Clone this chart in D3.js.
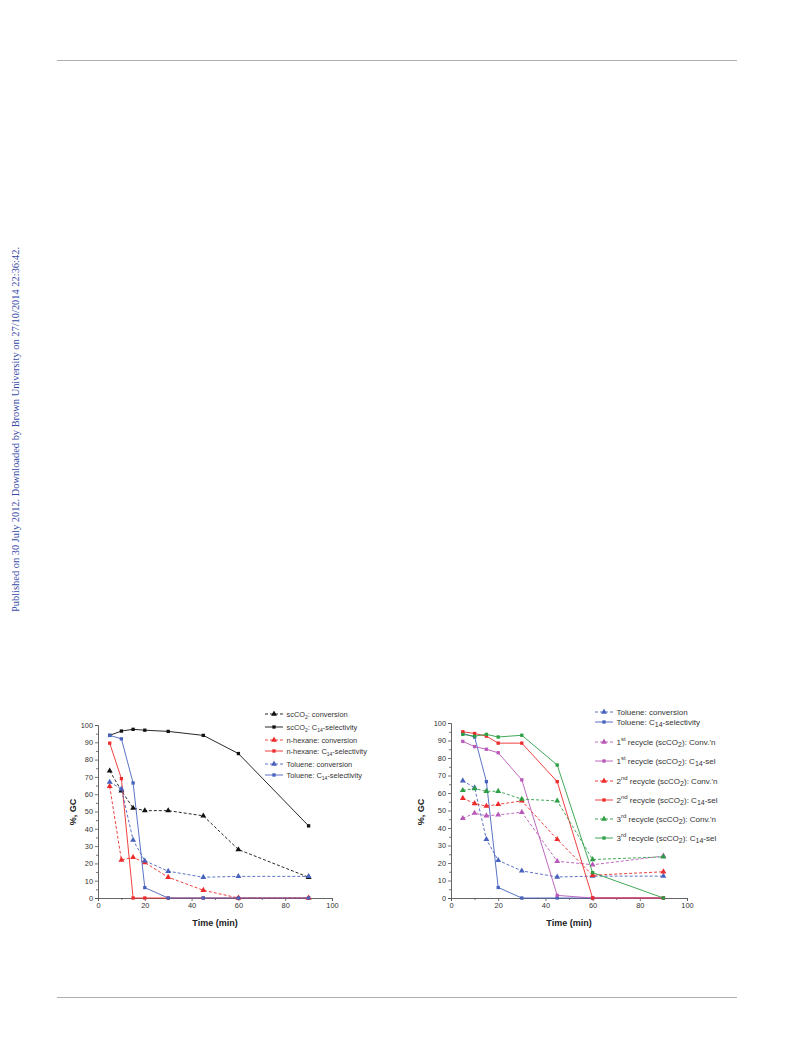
<!DOCTYPE html>
<html>
<head>
<meta charset="utf-8">
<script src="https://cdn.jsdelivr.net/npm/d3@7"></script>
<style>
  body { margin: 0; background: #fff; }
  svg { display: block; }
  text { font-family: "Liberation Sans", Arial, sans-serif; }
</style>
</head>
<body>
<svg id="page" width="793" height="1039"></svg>
<script>
// sampling times (min)
const times = [5, 10, 15, 20, 30, 45, 60, 90];

// left panel: solvent comparison
const scco2Conv   = [73.5, 62, 52, 50.5, 50.5, 47.5, 28, 12];
const scco2Sel    = [94, 96.5, 97.5, 97, 96.3, 94, 83.5, 41.7];
const hexaneConv  = [64.5, 22, 23.5, 20.5, 12, 4.5, 0, 0];
const hexaneSel   = [89.5, 69, 0, 0, 0, 0, 0, 0];
const tolueneConv = [67, 63, 33.5, 21.5, 15.5, 12, 12.5, 12.5];
const tolueneSel  = [94, 92, 66.5, 6, 0, 0, 0, 0];

// right panel: recycles in scCO2
const recycle1Conv = [45.5, 48.5, 47, 47.5, 49, 21, 19, 24];
const recycle1Sel  = [89.5, 86.5, 85, 83, 67.5, 1.5, 0, 0];
const recycle2Conv = [57, 54, 52.5, 53.5, 55.5, 33.5, 13, 15];
const recycle2Sel  = [95, 94, 92.5, 88.5, 88.5, 66.5, 0, 0];
const recycle3Conv = [61.5, 62.5, 61, 61, 56.5, 55.5, 22, 23.5];
const recycle3Sel  = [93.5, 92.5, 93.5, 92, 93, 76, 14.5, 0];

const xTicks = [0, 20, 40, 60, 80, 100];
const xMinor = [10, 30, 50, 70, 90];
const yTicks = [0, 10, 20, 30, 40, 50, 60, 70, 80, 90, 100];
const yMinor = [5, 15, 25, 35, 45, 55, 65, 75, 85, 95];

const col = {black: "#111", red: "#ee2b2b", blue: "#4763bd", purple: "#b858b8", green: "#2e9e45"};

const svg = d3.select("#page");

// page furniture
svg.append("line").attr("x1", 57).attr("x2", 737).attr("y1", 60.5).attr("y2", 60.5)
    .attr("stroke", "#999").attr("stroke-width", 0.8);
svg.append("line").attr("x1", 57).attr("x2", 737).attr("y1", 997.5).attr("y2", 997.5)
    .attr("stroke", "#999").attr("stroke-width", 0.8);
svg.append("text")
    .attr("transform", "translate(18.5,612) rotate(-90)")
    .attr("textLength", 365).attr("lengthAdjust", "spacingAndGlyphs")
    .style("font-family", "'Liberation Serif', 'Times New Roman', serif")
    .style("font-size", "10px").attr("fill", "#3548a8")
    .text("Published on 30 July 2012. Downloaded by Brown University on 27/10/2014 22:36:42.");

function drawPanel(p) {
    const x = d3.scaleLinear().domain([0, 100]).range(p.xRange);
    const y = d3.scaleLinear().domain([0, 100]).range(p.yRange);
    const g = svg.append("g");

    // axes
    g.append("g").attr("transform", `translate(0,${p.yRange[0]})`)
        .call(d3.axisBottom(x).tickValues(xTicks).tickSize(3).tickPadding(2));
    g.append("g").attr("transform", `translate(0,${p.yRange[0]})`)
        .call(d3.axisBottom(x).tickValues(xMinor).tickSize(2).tickFormat(""))
        .select(".domain").remove();
    g.append("g").attr("transform", `translate(${p.xRange[0]},0)`)
        .call(d3.axisLeft(y).tickValues(yTicks).tickSize(3).tickPadding(2));
    g.append("g").attr("transform", `translate(${p.xRange[0]},0)`)
        .call(d3.axisLeft(y).tickValues(yMinor).tickSize(2).tickFormat(""))
        .select(".domain").remove();
    g.selectAll(".domain").attr("stroke", "#555").attr("stroke-width", 0.9);
    g.selectAll(".tick line").attr("stroke", "#555").attr("stroke-width", 0.8);
    g.selectAll(".tick text").attr("fill", "#333").style("font-size", "7.4px")
        .style("font-family", "'Liberation Sans', Arial, sans-serif");

    // axis titles
    const xm = (p.xRange[0] + p.xRange[1]) / 2;
    g.append("text").attr("x", xm).attr("y", 926).attr("text-anchor", "middle")
        .style("font-size", "9px").style("font-weight", "bold").attr("fill", "#222")
        .text("Time (min)");
    g.append("text").attr("transform", `translate(${p.titleX},812) rotate(-90)`)
        .attr("text-anchor", "middle")
        .style("font-size", "9px").style("font-weight", "bold").attr("fill", "#222")
        .text("%, GC");

    const line = d3.line().x(d => x(d[0])).y(d => y(d[1]));
    const tri = d3.symbol().type(d3.symbolTriangle).size(15);
    const sq = d3.symbol().type(d3.symbolSquare).size(11);

    p.series.forEach(s => {
        const pts = times.map((t, i) => [t, s.values[i]]);
        g.append("path").datum(pts).attr("d", line).attr("fill", "none")
            .attr("stroke", s.color).attr("stroke-width", 0.9)
            .attr("stroke-dasharray", s.dashed ? "3,2" : null);
        g.selectAll(null).data(pts).join("path")
            .attr("transform", d => `translate(${x(d[0])},${y(d[1])})`)
            .attr("d", s.dashed ? tri : sq).attr("fill", s.color);
    });

    // legend
    p.series.forEach(s => {
        const lg = g.append("g").attr("transform", `translate(${p.legX},${s.legY})`);
        lg.append("line").attr("x1", 0).attr("x2", 18).attr("y1", 0).attr("y2", 0)
            .attr("stroke", s.color).attr("stroke-width", 0.9)
            .attr("stroke-dasharray", s.dashed ? "3,2" : null);
        lg.append("path").attr("transform", "translate(9,0)")
            .attr("d", s.dashed ? tri : sq).attr("fill", s.color);
        const t = lg.append("text").attr("x", 21.5).attr("y", 2.6)
            .style("font-size", p.legFont + "px").attr("fill", "#333");
        let shift = 0;
        s.label.forEach(([txt, mode]) => {
            const target = mode === "sub" ? p.subShift : mode === "sup" ? -p.supShift : 0;
            t.append("tspan").attr("dy", target - shift)
                .style("font-size", mode === "n" ? null : (mode === "sub" ? p.subFont : p.supFont) + "px")
                .text(txt);
            shift = target;
        });
    });
}

drawPanel({
    xRange: [98, 332], yRange: [898, 725], titleX: 76,
    legX: 265, legFont: 7.4, subFont: 5, supFont: 5, subShift: 2, supShift: 3,
    series: [
        {values: scco2Conv, color: col.black, dashed: true, legY: 714,
         label: [["scCO", "n"], ["2", "sub"], [": conversion", "n"]]},
        {values: scco2Sel, color: col.black, dashed: false, legY: 727,
         label: [["scCO", "n"], ["2", "sub"], [": C", "n"], ["14", "sub"], ["-selectivity", "n"]]},
        {values: hexaneConv, color: col.red, dashed: true, legY: 740,
         label: [["n-hexane: conversion", "n"]]},
        {values: hexaneSel, color: col.red, dashed: false, legY: 751,
         label: [["n-hexane: C", "n"], ["14", "sub"], ["-selectivity", "n"]]},
        {values: tolueneConv, color: col.blue, dashed: true, legY: 764,
         label: [["Toluene: conversion", "n"]]},
        {values: tolueneSel, color: col.blue, dashed: false, legY: 775,
         label: [["Toluene: C", "n"], ["14", "sub"], ["-selectivity", "n"]]}
    ]
});

drawPanel({
    xRange: [451, 687], yRange: [898, 723], titleX: 424,
    legX: 595, legFont: 8, subFont: 7, supFont: 6, subShift: 2, supShift: 3.5,
    series: [
        {values: tolueneConv, color: col.blue, dashed: true, legY: 712,
         label: [["Toluene: conversion", "n"]]},
        {values: tolueneSel, color: col.blue, dashed: false, legY: 722,
         label: [["Toluene: C", "n"], ["14", "sub"], ["-selectivity", "n"]]},
        {values: recycle1Conv, color: col.purple, dashed: true, legY: 742,
         label: [["1", "n"], ["st", "sup"], [" recycle (scCO", "n"], ["2", "sub"], ["): Conv.'n", "n"]]},
        {values: recycle1Sel, color: col.purple, dashed: false, legY: 761,
         label: [["1", "n"], ["st", "sup"], [" recycle (scCO", "n"], ["2", "sub"], ["): C", "n"], ["14", "sub"], ["-sel", "n"]]},
        {values: recycle2Conv, color: col.red, dashed: true, legY: 781,
         label: [["2", "n"], ["nd", "sup"], [" recycle (scCO", "n"], ["2", "sub"], ["): Conv.'n", "n"]]},
        {values: recycle2Sel, color: col.red, dashed: false, legY: 800,
         label: [["2", "n"], ["nd", "sup"], [" recycle (scCO", "n"], ["2", "sub"], ["): C", "n"], ["14", "sub"], ["-sel", "n"]]},
        {values: recycle3Conv, color: col.green, dashed: true, legY: 819,
         label: [["3", "n"], ["rd", "sup"], [" recycle (scCO", "n"], ["2", "sub"], ["): Conv.'n", "n"]]},
        {values: recycle3Sel, color: col.green, dashed: false, legY: 838,
         label: [["3", "n"], ["rd", "sup"], [" recycle (scCO", "n"], ["2", "sub"], ["): C", "n"], ["14", "sub"], ["-sel", "n"]]}
    ]
});
</script>
</body>
</html>
